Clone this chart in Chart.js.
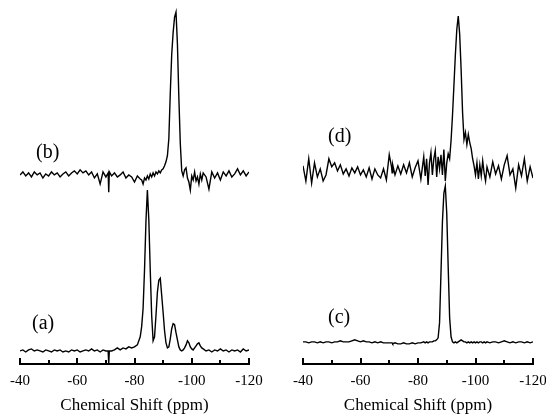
<!DOCTYPE html>
<html>
<head>
<meta charset="utf-8">
<script src="https://cdn.jsdelivr.net/npm/chart.js@4.4.1/dist/chart.umd.min.js"></script>
<style>
  html, body { margin: 0; background: #fff; overflow: hidden; }
  .fila { display: flex; width: 546px; height: 418px; overflow: hidden; }
  canvas { display: block; flex: none; }
</style>
</head>
<body>
<div class="fila">
  <canvas id="izq" width="273" height="418"></canvas>
  <canvas id="der" width="284" height="418"></canvas>
</div>
<script>
/* desplazamiento quimico (ppm), comun a los cuatro espectros */
const ppm = [
  -40, -41, -42, -43, -44, -45, -46, -47, -48, -49,
  -50, -51, -52, -53, -54, -55, -56, -57, -58, -59,
  -60, -61, -62, -63, -64, -65, -66, -67, -68, -69,
  -70, -70.8, -71, -71.2,
  -72, -73, -74, -75, -76, -77, -78, -79, -80, -81, -82,
  -82.5, -83, -83.5, -84, -84.5, -85, -85.5, -86, -86.5, -87,
  -87.5, -88, -88.5, -89, -89.5, -90, -90.5, -91, -91.5, -92,
  -92.5, -93, -93.5, -94, -94.5, -95, -95.5, -96, -96.5, -97,
  -97.5, -98, -98.5, -99, -99.5, -100, -100.5, -101, -101.5, -102,
  -102.5, -103, -103.5, -104,
  -105, -106, -107, -108, -109, -110, -111, -112, -113, -114, -115, -116, -117, -118, -119, -120
];

/* (a) */
const espectroA = [
  0, 1, -1, 1, 2, 0, 1, 0, -1, 1,
  0, -1, 1, 0, 1, -1, 0, -1, 1, 0,
  1, -1, 0, 1, 0, 2, 0, 1, -1, 1,
  0, 0, -13, 0,
  0, 1, 3, 1, 3, 2, 4, 3, 4, 6, 14,
  24, 42, 80, 128, 159, 130, 80, 35, 10, 14,
  35, 58, 70, 72, 55, 38, 20, 8, 3, 4,
  12, 22, 27, 26, 18, 11, 4, 1, 0, 1,
  3, 6, 10, 8, 4, 2, 1, 3, 5, 7,
  8, 5, 3, 2,
  0, 1, -1, 1, 0, 2, 0, 1, -1, 1, 0, 1, -1, 2, 0, 1
];

/* (b) */
const espectroB = [
  -1, 2, -2, 1, -3, 2, -1, 1, -4, 0,
  -2, 2, -1, 1, -3, 0, 2, -2, 1, 3,
  0, 4, 1, 3, -1, 2, -4, 0, -10, 2,
  -3, 1, -18, 2,
  -2, 1, -3, -1, 2, -4, -1, -3, -8, -2, -5,
  -6, -10, -4, -6, -2, -5, 0, -3, 1, -2,
  2, 0, 3, 1, 4, 5, 8, 12, 18, 35,
  80, 118, 140, 155, 160, 128, 75, 30, 3, -2,
  4, 6, -4, -8, -16, -2, -6, 2, -7, -3,
  -10, 0, -6, 1,
  -3, -15, 2, -4, 1, -6, 2, -2, 3, -3, 0, 5, -1, 3, -2, 2
];

/* (c) */
const espectroC = [
  1, 1, 0, 1, 1, 0, 1, 0, 1, 1,
  0, 1, 1, 2, 1, 1, 1, 2, 3, 2,
  1, 2, 1, 1, 0, 1, 0, 1, 0, 0,
  0, 0, 0, -1,
  0, -1, -1, 0, -1, -1, 0, -1, 0, 0, 1,
  0, 1, 0, 1, 1, 1, 2, 2, 3, 5,
  20, 70, 120, 148, 155, 128, 75, 25, 6, 1,
  0, 1, 0, 1, 2, 3, 2, 1, 1, 0,
  1, 0, 1, 0, 1, 0, 1, 0, 1, 1,
  0, 1, 0, 1,
  0, 1, 1, 0, 1, 2, 1, 0, 1, 0, 1, 1, 0, 1, 0, 1
];

/* (d) */
const espectroD = [
  5, -10, 12, -12, 8, -6, 2, -10, -4, 12,
  4, 8, 0, 6, -3, 2, -5, 3, -2, 4,
  -4, 1, -6, 3, -8, 2, -4, -7, 2, -9,
  16, 4, -2, 6,
  -4, 5, -3, 6, -2, 8, -6, 3, 10, -8, 14,
  -5, 12, -14, 8, 18, -4, 12, 20, -6, 14,
  2, 16, -4, 21, -10, 8, 17, 12, 30, 55,
  85, 115, 140, 153, 135, 100, 58, 31, 38, 26,
  36, 28, 22, 12, 5, -4, 8, -8, 6, -5,
  10, -2, -10, 4,
  -6, 9, -3, 5, -8, 6, 15, -4, 2, -17, 6, -5, 12, -10, 4, -7
];

const etiquetasTicks = [-40, -60, -80, -100, -120];
const marcasMenores = [-50, -70, -90, -110];

const fuente = '"Liberation Serif", "Times New Roman", serif';

function serie(valores, base) {
    return ppm.map((x, i) => ({ x: x, y: valores[i] + base }));
}

const ejes = {
    id: 'ejes',
    afterDraw(chart, args, opts) {
        const ctx = chart.ctx;
        const x = chart.scales.x;
        const y = chart.scales.y;
        const fondo = chart.chartArea.bottom;
        ctx.save();
        ctx.strokeStyle = '#000';
        ctx.lineWidth = 2;
        etiquetasTicks.concat(marcasMenores).forEach(v => {
            const px = Math.round(x.getPixelForValue(v));
            const largo = etiquetasTicks.includes(v) ? 6 : 4;
            ctx.beginPath();
            ctx.moveTo(px, fondo);
            ctx.lineTo(px, fondo - largo);
            ctx.stroke();
        });
        ctx.fillStyle = '#000';
        ctx.font = '20px ' + fuente;
        ctx.textBaseline = 'middle';
        ctx.textAlign = 'left';
        opts.textos.forEach(t => {
            ctx.fillText(t.texto, x.getPixelForValue(t.ppm), y.getPixelForValue(t.y));
        });
        ctx.restore();
    }
};

function grafico(id, inferior, superior, baseInf, baseSup, textos, padDer, padIzq) {
    const ctx = document.getElementById(id).getContext('2d');
    return new Chart(ctx, {
        type: 'line',
        data: {
            datasets: [{
                data: serie(inferior, baseInf),
                borderColor: '#000',
                borderWidth: 1.4,
                pointRadius: 0,
                tension: 0
            }, {
                data: serie(superior, baseSup),
                borderColor: '#000',
                borderWidth: 1.4,
                pointRadius: 0,
                tension: 0
            }]
        },
        options: {
            responsive: false,
            animation: false,
            layout: {
                padding: { left: padIzq, right: padDer, top: 5, bottom: 2 }
            },
            plugins: {
                legend: { display: false },
                tooltip: { enabled: false },
                ejes: { textos: textos }
            },
            scales: {
                x: {
                    type: 'linear',
                    min: -120,
                    max: -40,
                    reverse: true,
                    grid: { display: false, drawTicks: false },
                    border: { display: true, color: '#000', width: 2 },
                    afterBuildTicks: (eje) => {
                        eje.ticks = etiquetasTicks.map(v => ({ value: v }));
                    },
                    ticks: {
                        color: '#000',
                        padding: 9,
                        maxRotation: 0,
                        font: { family: fuente, size: 15, lineHeight: 1.1 }
                    },
                    title: {
                        display: true,
                        text: 'Chemical Shift (ppm)',
                        color: '#000',
                        padding: { top: -3, bottom: 0 },
                        font: { family: fuente, size: 17 }
                    }
                },
                y: {
                    display: false,
                    min: 0,
                    max: 355
                }
            }
        },
        plugins: [ejes]
    });
}

/* panel izquierdo: (a) abajo, (b) arriba */
grafico('izq', espectroA, espectroB, 13, 188, [
    { texto: '(a)', ppm: -44.2, y: 40 },
    { texto: '(b)', ppm: -45.6, y: 209 }
], 24, 20);

/* panel derecho: (c) abajo, (d) arriba */
grafico('der', espectroC, espectroD, 21, 191, [
    { texto: '(c)', ppm: -48.7, y: 46 },
    { texto: '(d)', ppm: -48.7, y: 225 }
], 24, 30);
</script>
</body>
</html>
